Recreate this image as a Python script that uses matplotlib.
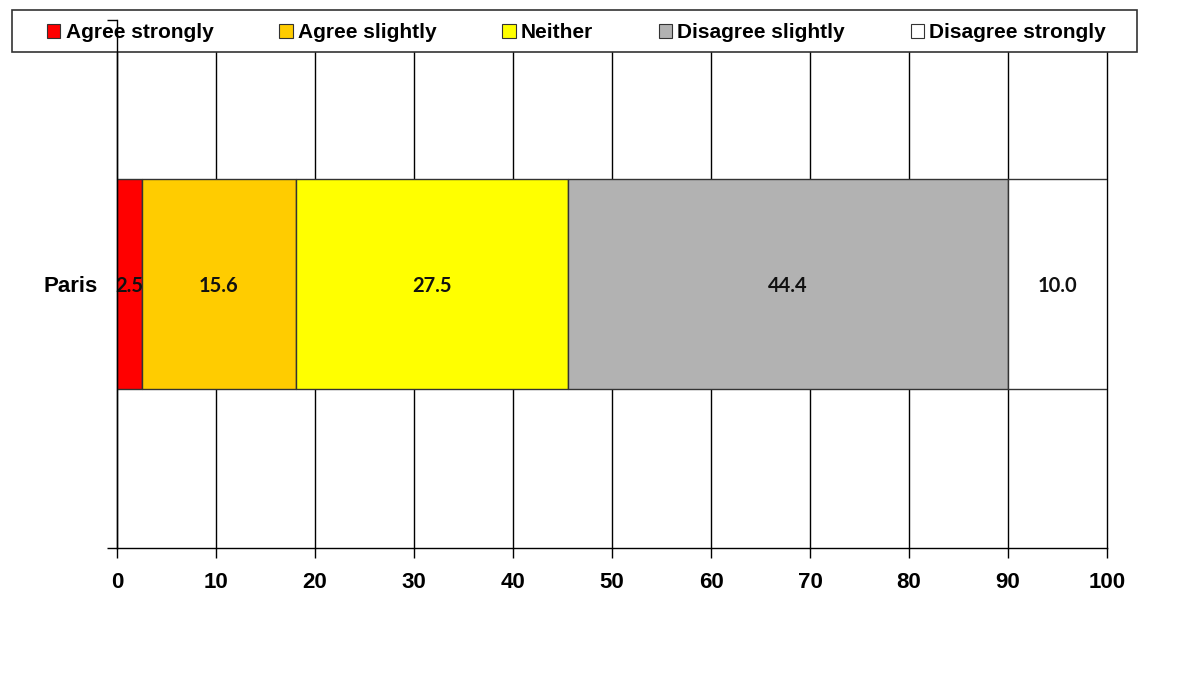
import matplotlib
matplotlib.use("Agg")
import matplotlib.pyplot as plt
from matplotlib.patches import Patch, Rectangle

# Survey responses (percent) for one city
categories = ["Paris"]
labels = ["Agree strongly", "Agree slightly", "Neither", "Disagree slightly", "Disagree strongly"]
values = [2.5, 15.6, 27.5, 44.4, 10.0]
colors = ["#FF0000", "#FFCC00", "#FFFF00", "#B2B2B2", "#FFFFFF"]
xticks = [0, 10, 20, 30, 40, 50, 60, 70, 80, 90, 100]

W, H = 1177, 678
fig = plt.figure(figsize=(W / 100, H / 100), dpi=100)
ax = fig.add_axes([117 / W, 1 - 548 / H, (1107 - 117) / W, (548 - 20) / H])

left = 0.0
for val, col, lab in zip(values, colors, labels):
    ax.barh(categories, [val], left=[left], height=0.396, color=col,
            edgecolor="#333333", linewidth=1.0, zorder=3, label=lab)
    ax.text(left + val / 2, -0.004, f"{val:.1f}", ha="center", va="center",
            fontsize=14.5, fontweight="bold", family="Lato", color="#111111", zorder=4)
    left += val

ax.set_xlim(0, 100)
ax.set_ylim(-0.5, 0.5)
ax.set_xticks(xticks)
ax.set_xticklabels([str(t) for t in xticks], fontsize=16, fontweight="bold",
                   family="Liberation Sans")
ax.tick_params(axis="x", length=7, width=1, pad=10.5, color="black")
ax.set_yticks([0])
ax.set_yticklabels(categories, fontsize=16, fontweight="bold", family="Liberation Sans")
ax.tick_params(axis="y", which="major", length=0, pad=14)
ax.set_yticks([-0.5, 0.5], minor=True)
ax.tick_params(axis="y", which="minor", length=7, width=1, color="black")

ax.xaxis.grid(True, color="black", linewidth=1.0, zorder=0)
for gl in ax.get_xgridlines():
    gl.set_clip_on(False)
ax.set_axisbelow(True)
for s in ["top", "right"]:
    ax.spines[s].set_visible(False)
for s in ["left", "bottom"]:
    ax.spines[s].set_linewidth(1.0)
    ax.spines[s].set_color("black")
ax.spines["left"].set_zorder(10)
ax.yaxis.set_zorder(10)

# Legend frame spanning the top of the figure
frame = Rectangle((12 / W, 1 - 52 / H), (1137 - 12) / W, 42 / H,
                  transform=fig.transFigure, facecolor="white", edgecolor="#333333",
                  linewidth=1.2, zorder=7, clip_on=False)
ax.add_artist(frame)

handles = [Patch(facecolor=c, edgecolor="#333333", linewidth=0.8) for c in colors]
leg = ax.legend(handles, labels, loc="center",
                bbox_to_anchor=(576.5 / W, 1 - 33 / H), bbox_transform=fig.transFigure,
                ncol=5, frameon=False,
                prop={"family": "Liberation Sans", "weight": "bold", "size": 15},
                handlelength=0.65, handleheight=0.65, handletextpad=0.25,
                borderaxespad=0, borderpad=0.0, columnspacing=3.15)
leg.set_zorder(8)

fig.savefig("out.png", dpi=100)
